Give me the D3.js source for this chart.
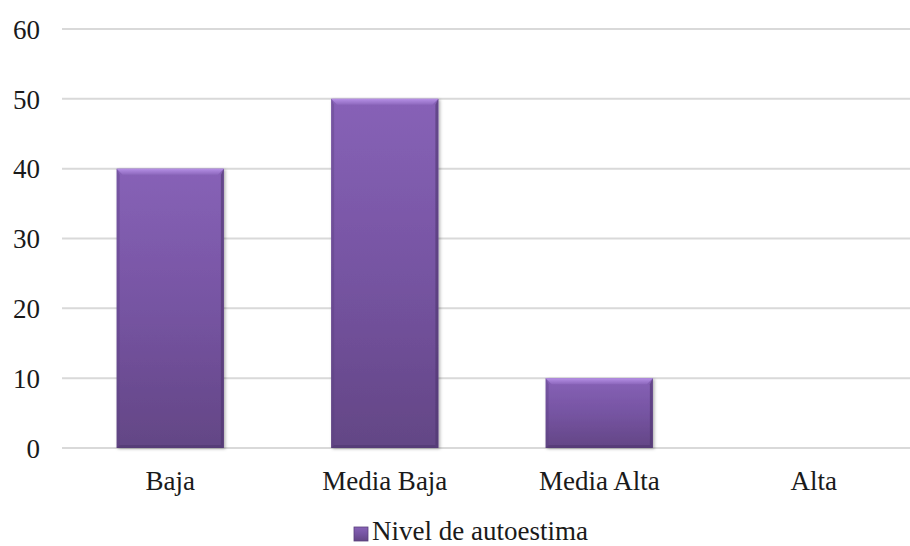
<!DOCTYPE html>
<html>
<head>
<meta charset="utf-8">
<script src="https://cdn.jsdelivr.net/npm/d3@7"></script>
<style>
  html, body { margin: 0; padding: 0; background: #ffffff; }
  svg { display: block; }
  svg text { font-family: "Liberation Serif", "Times New Roman", Tinos, "DejaVu Serif", serif !important; fill: #1a1a1a; }
</style>
</head>
<body>
<svg id="chart" width="910" height="546"></svg>
<script>
// Nivel de autoestima por categoría
const categories = ["Baja", "Media Baja", "Media Alta", "Alta"];
const values = [40, 50, 10, 0];
const yTicks = [0, 10, 20, 30, 40, 50, 60];
const seriesName = "Nivel de autoestima";

const W = 910, H = 546;
const FONT = "'Liberation Serif', 'Times New Roman', Tinos, 'DejaVu Serif', serif";
const svg = d3.select("#chart");

const x = d3.scaleBand().domain(categories).range([63, 921]).paddingInner(0.5).paddingOuter(0.25);
const y = d3.scaleLinear().domain([0, 60]).range([448, 29]);

const defs = svg.append("defs");

const grad = defs.append("linearGradient").attr("id", "barFill")
  .attr("x1", 0).attr("y1", 0).attr("x2", 0).attr("y2", 1);
grad.append("stop").attr("offset", "0%").attr("stop-color", "#8762b7");
grad.append("stop").attr("offset", "50%").attr("stop-color", "#7654a2");
grad.append("stop").attr("offset", "100%").attr("stop-color", "#634685");

const topGrad = defs.append("linearGradient").attr("id", "topBevel")
  .attr("x1", 0).attr("y1", 0).attr("x2", 0).attr("y2", 1);
topGrad.append("stop").attr("offset", "0%").attr("stop-color", "#b690e6");
topGrad.append("stop").attr("offset", "100%").attr("stop-color", "#8d68bd");

const shadow = defs.append("filter").attr("id", "shadow")
  .attr("x", "-10%").attr("y", "-10%").attr("width", "130%").attr("height", "130%");
shadow.append("feDropShadow").attr("dx", 1.5).attr("dy", 1)
  .attr("stdDeviation", 1.4).attr("flood-color", "#000").attr("flood-opacity", 0.3);

// Gridlines
const grid = svg.append("g").attr("class", "grid");
grid.selectAll("line").data(yTicks).join("line")
  .attr("x1", 62).attr("x2", W)
  .attr("y1", d => y(d)).attr("y2", d => y(d))
  .attr("stroke", "#d9d9d9").attr("stroke-width", 2);

// Y axis labels
const yAxis = d3.axisLeft(y).tickValues(yTicks).tickSize(0).tickPadding(0);
const yG = svg.append("g").attr("transform", "translate(40,0)").call(yAxis)
  .attr("font-family", FONT).attr("font-size", 27);
yG.select(".domain").remove();
yG.selectAll("text").attr("fill", "#1a1a1a").attr("dy", "0.34em");

// X axis labels
const xAxis = d3.axisBottom(x).tickSize(0).tickPadding(0);
const xG = svg.append("g").attr("transform", "translate(0,448)").call(xAxis)
  .attr("font-family", FONT).attr("font-size", 27);
xG.select(".domain").remove();
xG.selectAll("text").attr("fill", "#1a1a1a").attr("y", 42).attr("dy", 0);

// Bars with bevelled edges
const bars = svg.append("g").attr("class", "bars")
  .selectAll("g").data(categories.map((c, i) => ({ c, v: values[i] })).filter(d => d.v > 0))
  .join("g").attr("filter", "url(#shadow)");

bars.append("rect")
  .attr("x", d => x(d.c)).attr("width", x.bandwidth())
  .attr("y", d => y(d.v)).attr("height", d => y(0) - y(d.v))
  .attr("fill", "url(#barFill)");

const b = 6;
bars.append("path").attr("fill", "url(#topBevel)").attr("d", d => {
  const x0 = x(d.c), x1 = x0 + x.bandwidth(), t = y(d.v);
  return `M${x0},${t}L${x1},${t}L${x1 - b},${t + b}L${x0 + b},${t + b}Z`;
});
bars.append("path").attr("fill", "#5a3f7e").attr("opacity", 0.35).attr("d", d => {
  const x0 = x(d.c), t = y(d.v), bt = y(0);
  return `M${x0},${t}L${x0 + 3},${t + b}L${x0 + 3},${bt - 3}L${x0},${bt}Z`;
});
bars.append("path").attr("fill", "#4e366e").attr("opacity", 0.6).attr("d", d => {
  const x1 = x(d.c) + x.bandwidth(), t = y(d.v), bt = y(0);
  return `M${x1},${t}L${x1 - 3},${t + b}L${x1 - 3},${bt - 3}L${x1},${bt}Z`;
});
bars.append("path").attr("fill", "#4e366e").attr("opacity", 0.55).attr("d", d => {
  const x0 = x(d.c), x1 = x0 + x.bandwidth(), bt = y(0);
  return `M${x0},${bt}L${x0 + 3},${bt - 3}L${x1 - 3},${bt - 3}L${x1},${bt}Z`;
});

// Legend
const legend = svg.append("g").attr("transform", "translate(354,527)");
legend.append("rect").attr("width", 14).attr("height", 14)
  .attr("fill", "url(#barFill)").attr("stroke", "#5a3f7c").attr("stroke-width", 0.8);
legend.append("text").attr("x", 18).attr("y", 13)
  .attr("font-family", FONT).attr("font-size", 27).text(seriesName);
</script>
</body>
</html>
